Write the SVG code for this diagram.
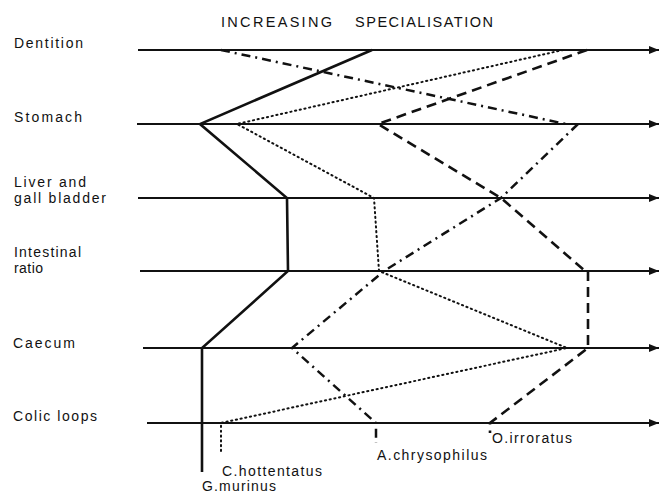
<svg xmlns="http://www.w3.org/2000/svg" width="661" height="495" viewBox="0 0 661 495">
<defs>
<marker id="arr" markerUnits="userSpaceOnUse" markerWidth="11" markerHeight="8" refX="10" refY="4" orient="auto">
<path d="M0,0 L10,4 L0,8 z" fill="#111"/>
</marker>
<style>
text{font-family:"Liberation Sans","DejaVu Sans",Arial,sans-serif;font-size:14px;fill:#111}
.title{font-size:14.5px}
.axis{stroke:#111;stroke-width:2;fill:none;marker-end:url(#arr)}
.sp{fill:none;stroke:#111;stroke-linejoin:miter}
.solid{stroke-width:2.6}
.dash{stroke-width:2.6;stroke-dasharray:10 6}
.dot{stroke-width:2;stroke-dasharray:1.2 3.6;stroke-linecap:round}
.dashdot{stroke-width:2.5;stroke-dasharray:9 5 2 5}
</style>
</defs>
<rect width="661" height="495" fill="#fff"/>
<g id="title">
<text class="title" x="221" y="27" textLength="111" lengthAdjust="spacing">INCREASING</text>
<text class="title" x="355" y="27" textLength="138" lengthAdjust="spacing">SPECIALISATION</text>
</g>
<g id="row-dentition">
<text x="14" y="48" textLength="69" lengthAdjust="spacing">Dentition</text>
<line class="axis" x1="138" y1="50" x2="659" y2="50"/>
</g>
<g id="row-stomach">
<text x="14" y="122" textLength="68" lengthAdjust="spacing">Stomach</text>
<line class="axis" x1="137" y1="124" x2="659" y2="124"/>
</g>
<g id="row-liver">
<text x="14" y="187" textLength="72" lengthAdjust="spacing">Liver and</text>
<text x="14" y="203" textLength="92" lengthAdjust="spacing">gall bladder</text>
<line class="axis" x1="138" y1="198" x2="659" y2="198"/>
</g>
<g id="row-intestinal">
<text x="14" y="257" textLength="67" lengthAdjust="spacing">Intestinal</text>
<text x="14" y="273" textLength="29" lengthAdjust="spacing">ratio</text>
<line class="axis" x1="140" y1="271" x2="659" y2="271"/>
</g>
<g id="row-caecum">
<text x="13" y="348" textLength="62" lengthAdjust="spacing">Caecum</text>
<line class="axis" x1="143" y1="348" x2="659" y2="348"/>
</g>
<g id="row-colic">
<text x="13" y="421" textLength="84" lengthAdjust="spacing">Colic loops</text>
<line class="axis" x1="147" y1="423" x2="659" y2="423"/>
</g>
<g id="connectors">
<path id="g-murinus" class="sp solid" d="M372,50 L200,124 L287,198 L288,271 L202,348 L202,472"/>
<path id="c-hottentatus" class="sp dot" d="M563,50 L237,124 L374,198 L379,271 L567,348 L221,423 L221,452"/>
<path id="a-chrysophilus" class="sp dashdot" d="M221,50 L566,124 M578,124 L501,198 L384,271 L292,348 L376,423 L376,443"/>
<path id="o-irroratus" class="sp dash" d="M587,50 L378,124 L501,198 L585,271 M588,271 L588,348 L490,423 L490,433"/>
</g>
<g id="labels">
<text x="222" y="476" textLength="100" lengthAdjust="spacing">C.hottentatus</text>
<text x="202" y="491" textLength="74" lengthAdjust="spacing">G.murinus</text>
<text x="377" y="460" textLength="110" lengthAdjust="spacing">A.chrysophilus</text>
<text x="492" y="443" textLength="80" lengthAdjust="spacing">O.irroratus</text>
</g>
</svg>
